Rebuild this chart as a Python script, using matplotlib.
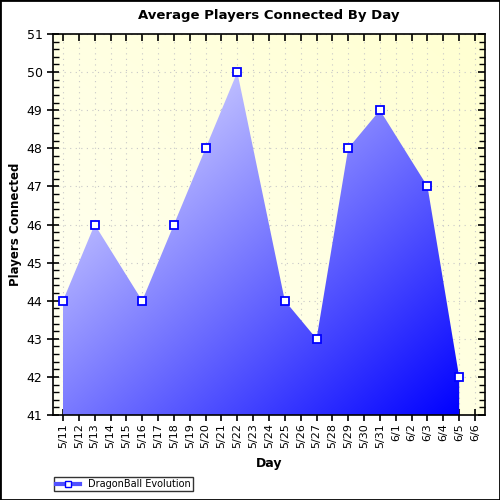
import matplotlib
matplotlib.use("Agg")
import matplotlib.pyplot as plt
import numpy as np
from matplotlib.lines import Line2D, TICKLEFT, TICKDOWN
from matplotlib.patches import Rectangle

# tick labels along the x axis (one per day)
days = ['5/11', '5/12', '5/13', '5/14', '5/15', '5/16', '5/17', '5/18', '5/19',
        '5/20', '5/21', '5/22', '5/23', '5/24', '5/25', '5/26', '5/27', '5/28',
        '5/29', '5/30', '5/31', '6/1', '6/2', '6/3', '6/4', '6/5', '6/6']

# days with a measurement and the average players connected
point_days = ['5/11', '5/13', '5/16', '5/18', '5/20', '5/22', '5/25', '5/27',
              '5/29', '5/31', '6/3', '6/5']
players = [44, 46, 44, 46, 48, 50, 44, 43, 48, 49, 47, 42]

y_min, y_max = 41, 51

plt.rcParams['font.family'] = ['DejaVu Sans']

x = np.array([days.index(d) for d in point_days], dtype=float)
y = np.array(players, dtype=float)

fig = plt.figure(figsize=(5, 5), dpi=100)
ax = fig.add_axes([0.106, 0.17, 0.864, 0.762])

xlo, xhi = -0.63, len(days) - 1 + 0.63
ax.set_xlim(xlo, xhi)
ax.set_ylim(y_min, y_max)

# light yellow background gradient
gx, gy = np.meshgrid(np.linspace(0, 1, 200), np.linspace(0, 1, 200))
t = (gx + gy) / 2
bg = np.zeros((200, 200, 3))
bg[..., 0] = 1.0
bg[..., 1] = 1.0
bg[..., 2] = 0.96 - 0.14 * t
ax.imshow(bg, extent=[xlo, xhi, y_min, y_max], origin='lower', aspect='auto',
          zorder=0.1, interpolation='bilinear')

# area with diagonal gradient from light lavender to blue
poly = ax.fill_between(x, y_min, y, color='none', lw=0, zorder=1)
fx, fy = np.meshgrid(np.linspace(0, 1, 300), np.linspace(0, 1, 300))
tt = (fx + (1 - fy)) / 2
start = 0.95
grad = np.zeros((300, 300, 3))
grad[..., 0] = start * (1 - tt)
grad[..., 1] = start * (1 - tt)
grad[..., 2] = 1.0
img = ax.imshow(grad, extent=[x.min(), x.max(), y_min, y.max()], origin='lower',
                aspect='auto', zorder=1, interpolation='bilinear')
img.set_clip_path(poly.get_paths()[0], transform=ax.transData)

ax.plot(x, y, ls='none', marker='s', markersize=6, markerfacecolor='white',
        markeredgecolor='#0000ff', markeredgewidth=1.3, zorder=3, clip_on=False)

# grid and ticks
ax.set_axisbelow(True)
ax.set_xticks(range(len(days)))
ax.set_xticklabels(days, rotation=90, fontsize=8)
ax.set_yticks(range(y_min, y_max + 1))
ax.set_yticks(np.arange(y_min, y_max, 0.2), minor=True)
ax.tick_params(axis='y', labelsize=9)
ax.grid(True, which='major', color='#c8c8c8', linestyle=(0, (1, 4)), linewidth=0.8)
ax.tick_params(which='major', direction='inout', length=8, width=1.2,
               top=True, right=True)
ax.tick_params(which='minor', direction='in', length=4, width=1, right=True)
ax.tick_params(axis='x', which='major', pad=2)

# right and top ticks point inward only
for tk in ax.yaxis.get_major_ticks():
    tk.tick2line.set_marker(TICKLEFT)
    tk.tick2line.set_markersize(5)
for tk in ax.xaxis.get_major_ticks():
    tk.tick2line.set_marker(TICKDOWN)
    tk.tick2line.set_markersize(5)

for spine in ax.spines.values():
    spine.set_linewidth(1.2)

ax.set_title('Average Players Connected By Day', fontsize=9.5, fontweight='bold', pad=11)
ax.set_xlabel('Day', fontsize=9, fontweight='bold', labelpad=6)
ax.set_ylabel('Players Connected', fontsize=8.5, fontweight='bold', labelpad=3)

handle = Line2D([], [], color='#5050ff', lw=3, marker='s', markersize=5,
                markerfacecolor='white', markeredgecolor='#0000ff')
leg = fig.legend([handle], ['DragonBall Evolution'], loc='lower left',
                 bbox_to_anchor=(0.108, 0.018), fontsize=7, frameon=True,
                 fancybox=False, borderpad=0.2, handlelength=2.5,
                 borderaxespad=0)
leg.get_frame().set_edgecolor('black')
leg.get_frame().set_linewidth(1)

fig.patches.append(Rectangle((0, 0), 1, 1, transform=fig.transFigure,
                             fill=False, edgecolor='black', lw=2))

fig.savefig('out.png', dpi=100, facecolor='white')
